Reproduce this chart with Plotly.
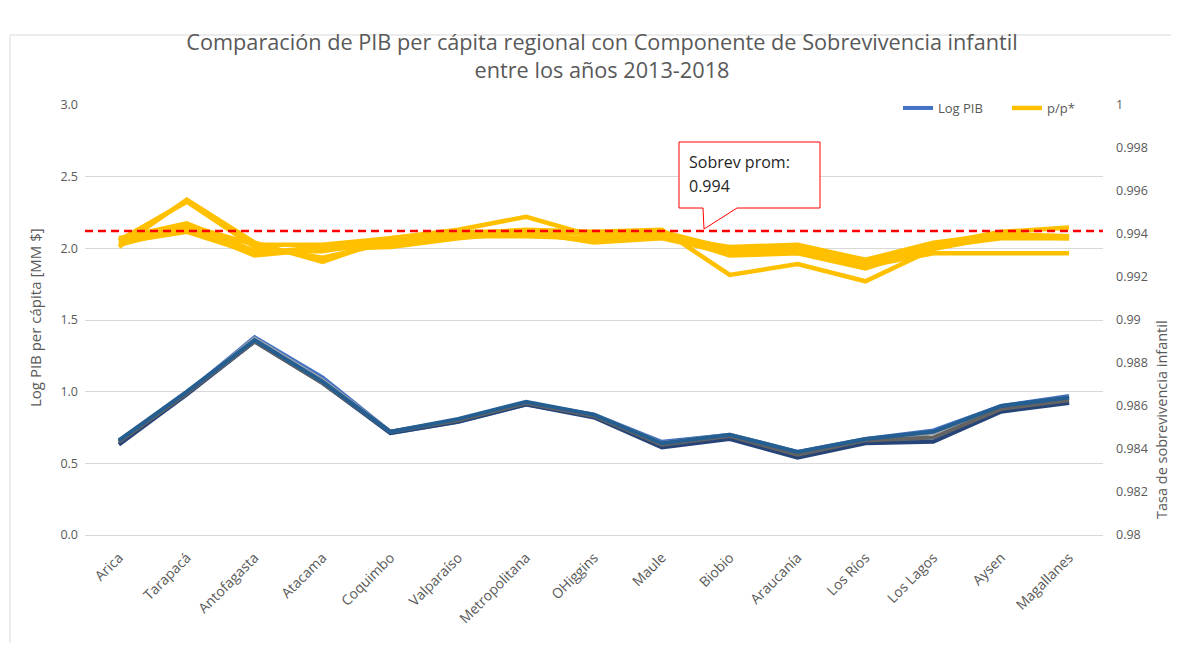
import plotly.graph_objects as go

regiones = ["Arica", "Tarapacá", "Antofagasta", "Atacama", "Coquimbo", "Valparaíso",
            "Metropolitana", "OHiggins", "Maule", "Biobio", "Araucanía", "Los Ríos",
            "Los Lagos", "Aysen", "Magallanes"]

anios = ["2013", "2014", "2015", "2016", "2017", "2018"]

log_pib_2013 = [0.66, 0.99, 1.38, 1.10, 0.72, 0.80, 0.92, 0.84, 0.65, 0.70, 0.58, 0.67, 0.73, 0.90, 0.97]
log_pib_2014 = [0.65, 0.99, 1.37, 1.08, 0.72, 0.80, 0.92, 0.84, 0.64, 0.70, 0.57, 0.66, 0.71, 0.89, 0.96]
log_pib_2015 = [0.64, 0.98, 1.36, 1.07, 0.71, 0.79, 0.91, 0.83, 0.62, 0.68, 0.55, 0.65, 0.66, 0.87, 0.93]
log_pib_2016 = [0.63, 0.98, 1.35, 1.06, 0.71, 0.79, 0.91, 0.82, 0.61, 0.67, 0.54, 0.64, 0.65, 0.86, 0.92]
log_pib_2017 = [0.65, 0.99, 1.35, 1.06, 0.72, 0.80, 0.92, 0.83, 0.63, 0.69, 0.56, 0.66, 0.68, 0.88, 0.94]
log_pib_2018 = [0.66, 1.00, 1.36, 1.07, 0.72, 0.81, 0.93, 0.84, 0.64, 0.70, 0.58, 0.67, 0.72, 0.90, 0.96]

pp_2013 = [0.9934, 0.9956, 0.9936, 0.9927, 0.9938, 0.9942, 0.9948, 0.9939, 0.9940, 0.9932, 0.9934, 0.9927, 0.9935, 0.9941, 0.9943]
pp_2014 = [0.9937, 0.9955, 0.9934, 0.9929, 0.9936, 0.9940, 0.9942, 0.9941, 0.9942, 0.9921, 0.9926, 0.9918, 0.9933, 0.9939, 0.9938]
pp_2015 = [0.9938, 0.9945, 0.9932, 0.9932, 0.9937, 0.9939, 0.9940, 0.9937, 0.9939, 0.9934, 0.9935, 0.9928, 0.9936, 0.9940, 0.9939]
pp_2016 = [0.9935, 0.9943, 0.9930, 0.9933, 0.9934, 0.9938, 0.9941, 0.9936, 0.9938, 0.9931, 0.9932, 0.9925, 0.9931, 0.9931, 0.9931]
pp_2017 = [0.9936, 0.9941, 0.9931, 0.9934, 0.9936, 0.9939, 0.9939, 0.9938, 0.9940, 0.9930, 0.9931, 0.9924, 0.9934, 0.9938, 0.9938]
pp_2018 = [0.9937, 0.9944, 0.9935, 0.9935, 0.9938, 0.9941, 0.9941, 0.9940, 0.9941, 0.9933, 0.9933, 0.9926, 0.9935, 0.9939, 0.9939]

sobrev_prom = 0.99414
sobrev_label = "0.994"

log_pib = [log_pib_2013, log_pib_2014, log_pib_2015, log_pib_2016, log_pib_2017, log_pib_2018]
pp = [pp_2013, pp_2014, pp_2015, pp_2016, pp_2017, pp_2018]

blue_colors = ["#4472C4", "#A5A5A5", "#5B9BD5", "#264478", "#636363", "#255E91"]
yellow = "#FFC000"

FONT = "Open Sans"
GRAY = "#595959"

# the page body adds an 8px margin; work in page pixels and convert
OFF = 8
W, H = 1179 - 2 * OFF, 651 - 2 * OFF
L, R, T, B = 85, 1103, 105, 535   # plot area in page pixels


def px(x):
    return (x - L) / (R - L)


def py(y):
    return (B - y) / (B - T)


fig = go.Figure()

for i, vals in enumerate(log_pib):
    fig.add_trace(go.Scatter(
        x=regiones, y=vals, mode="lines", name="Log PIB",
        legendgroup="pib", showlegend=(i == 0),
        line=dict(color=blue_colors[i], width=4),
        yaxis="y"))

for i, vals in enumerate(pp):
    fig.add_trace(go.Scatter(
        x=regiones, y=vals, mode="lines", name="p/p*",
        legendgroup="pp", showlegend=(i == 0),
        line=dict(color=yellow, width=4.5),
        yaxis="y2"))

fig.add_shape(type="line", xref="paper", yref="y2", x0=0, x1=1,
              y0=sobrev_prom, y1=sobrev_prom,
              line=dict(color="#FF0000", width=2.5, dash="8px,5px"))

callout = (f"M {px(679)} {py(142)} L {px(820)} {py(142)} L {px(820)} {py(208)} "
           f"L {px(737)} {py(208)} L {px(704)} {py(229)} L {px(703)} {py(208)} "
           f"L {px(679)} {py(208)} Z")
fig.add_shape(type="path", xref="paper", yref="paper", path=callout,
              line=dict(color="#FF0000", width=1), fillcolor="white")

fig.add_annotation(xref="paper", yref="paper", x=px(687), y=py(162),
                   xanchor="left", yanchor="middle", showarrow=False,
                   text="Sobrev prom:", font=dict(family=FONT, size=16, color="#262626"))
fig.add_annotation(xref="paper", yref="paper", x=px(687), y=py(186),
                   xanchor="left", yanchor="middle", showarrow=False,
                   text=sobrev_label, font=dict(family=FONT, size=16, color="#262626"))

# axis titles
fig.add_annotation(xref="paper", yref="paper", x=px(35), y=py(318),
                   textangle=-90, showarrow=False, xanchor="center", yanchor="middle",
                   text="Log PIB per cápita [MM $]", font=dict(family=FONT, size=15, color=GRAY))
fig.add_annotation(xref="paper", yref="paper", x=px(1161), y=py(420),
                   textangle=-90, showarrow=False, xanchor="center", yanchor="middle",
                   text="Tasa de sobrevivencia infantil", font=dict(family=FONT, size=14.5, color=GRAY))

# chart area border (top and left)
fig.add_shape(type="line", xref="paper", yref="paper", x0=px(10), x1=px(1190),
              y0=py(35), y1=py(35), line=dict(color="#D9D9D9", width=1))
fig.add_shape(type="line", xref="paper", yref="paper", x0=px(10), x1=px(10),
              y0=py(35), y1=py(670), line=dict(color="#D9D9D9", width=1))

fig.update_layout(
    width=W, height=H,
    margin=dict(l=L - OFF, r=(W + OFF) - R, t=T - OFF, b=(H + OFF) - B, autoexpand=False),
    paper_bgcolor="white", plot_bgcolor="white",
    title=dict(text="Comparación de PIB per cápita regional con Componente de Sobrevivencia infantil<br>entre los años 2013-2018",
               x=px(602), xref="paper", xanchor="center",
               y=(H - (50 - OFF)) / H, yref="container", yanchor="middle",
               font=dict(family=FONT, size=21.7, color=GRAY)),
    font=dict(family=FONT, size=12, color=GRAY),
    showlegend=True,
    legend=dict(orientation="h", x=px(898), xanchor="left", y=py(108), yanchor="middle",
                bgcolor="rgba(0,0,0,0)", font=dict(family=FONT, size=13, color=GRAY),
                itemwidth=30, traceorder="normal",
                entrywidth=64, entrywidthmode="pixels"),
    xaxis=dict(type="category", range=[-0.5, 14.5], showgrid=False,
               showline=True, linecolor="#D9D9D9", tickangle=-45,
               tickfont=dict(family=FONT, size=14, color=GRAY),
               ticks="outside", ticklen=8, tickcolor="rgba(0,0,0,0)"),
    yaxis=dict(range=[0, 3], dtick=0.5, tickformat=".1f", showgrid=True,
               gridcolor="#D9D9D9", gridwidth=1, zeroline=False, showline=False,
               tickfont=dict(family=FONT, size=12.5, color=GRAY), ticklabelstandoff=6),
    yaxis2=dict(range=[0.98, 1], dtick=0.002, overlaying="y", side="right",
                showgrid=False, zeroline=False, showline=False,
                tickfont=dict(family=FONT, size=12.5, color=GRAY), ticklabelstandoff=12),
)

fig.write_html("out.html")
